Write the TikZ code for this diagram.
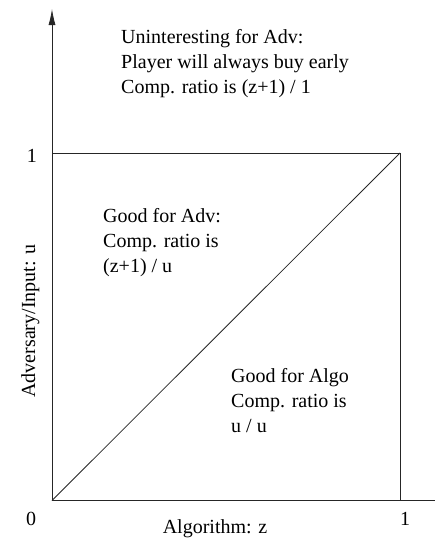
\documentclass[tikz,border=0pt]{standalone}
\usepackage{fontspec}
\setmainfont{Liberation Serif}
\usetikzlibrary{arrows.meta}
\begin{document}
\begin{tikzpicture}[x=1pt,y=-1pt,
  ln/.style={line width=0.8pt,black!85},
  txt/.style={inner sep=0pt,align=left,font=\fontsize{20}{25}\selectfont},
  lbl/.style={inner sep=0pt,font=\fontsize{20}{25}\selectfont}]
\useasboundingbox (0,0) rectangle (435,538);
\coordinate (O) at (52,500.5);
\coordinate (ytop) at (52,9);
\coordinate (xend) at (435,500.5);
\coordinate (TL) at (52,153);
\coordinate (TR) at (400,153);
\coordinate (BR) at (400,500.5);
\draw[ln,-{Latex[length=16pt,width=7pt]}] (O) -- (ytop);
\draw[ln] (O) -- (xend);
\draw[ln] (TL) -- (TR) -- (BR);
\draw[ln] (O) -- (TR);
\node[lbl,anchor=base] (zero) at (31,525) {0};
\node[lbl,anchor=base] (onex) at (405,525) {1};
\node[lbl,anchor=base] (oney) at (32,162) {1};
\node[lbl,anchor=base] (xlab) at (215,533) {Algorithm: z};
\node[lbl,anchor=base,rotate=90] (ylab) at (35,321) {Adversary/Input: u};
\node[txt,anchor=base west] (top) at (121,93) {Uninteresting for Adv:\\Player will always buy early\\Comp. ratio is (z+1) / 1};
\node[txt,anchor=base west] (mid) at (103,272) {Good for Adv:\\Comp. ratio is\\(z+1) / u};
\node[txt,anchor=base west] (low) at (231,432) {Good for Algo\\Comp. ratio is\\u / u};
\end{tikzpicture}
\end{document}
